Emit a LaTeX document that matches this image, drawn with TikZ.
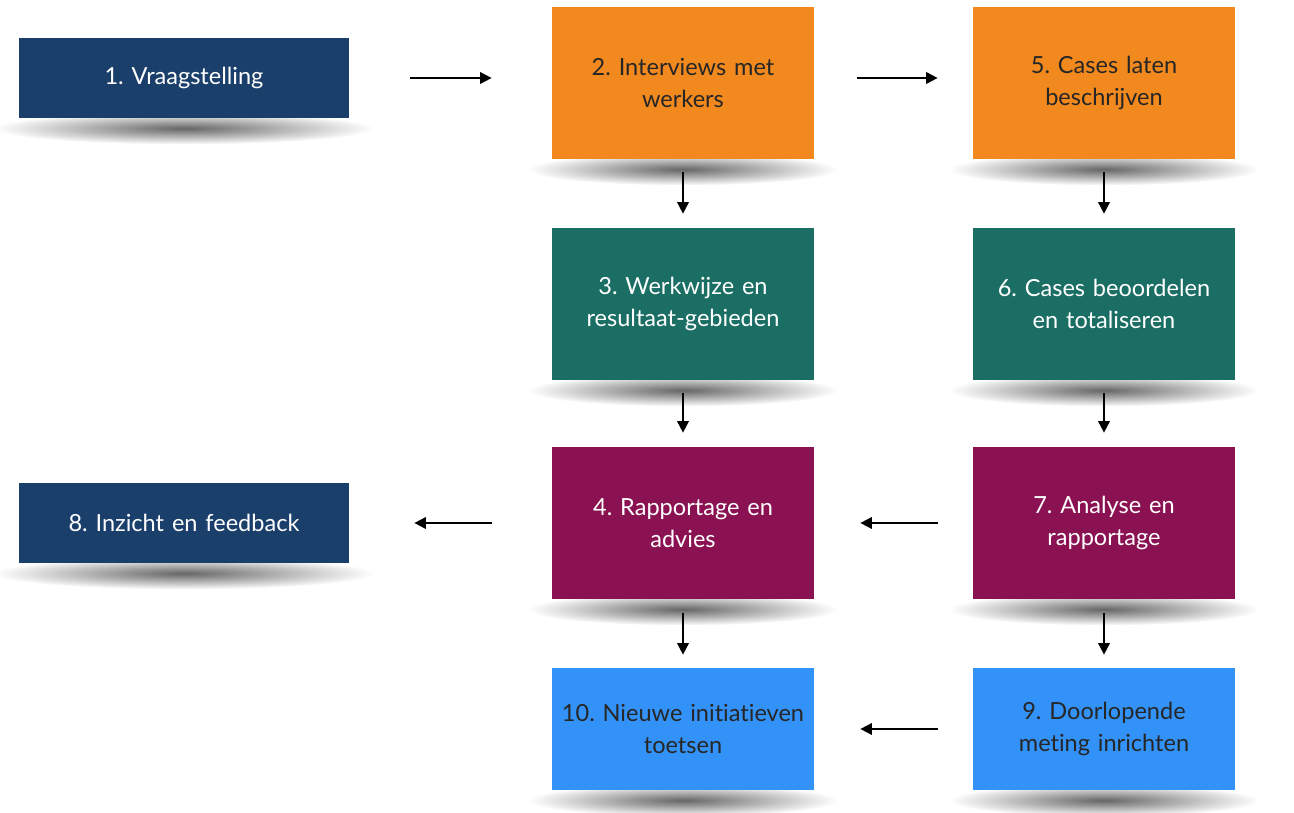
\documentclass[tikz,border=0pt]{standalone}
\usepackage{fontspec}
\setsansfont{Lato}[Ligatures=NoCommon]
\usepackage{tikz}
\usetikzlibrary{arrows.meta, positioning, fadings, backgrounds}
\usepackage{xcolor}
\definecolor{stepnavy}{RGB}{27,63,107}
\definecolor{steporange}{RGB}{242,137,30}
\definecolor{stepteal}{RGB}{27,110,100}
\definecolor{stepmaroon}{RGB}{138,18,83}
\definecolor{stepblue}{RGB}{51,146,247}
\tikzfading[name=shadowfade, inner color=transparent!0, outer color=transparent!100]
\tikzstyle{stepbox} = [rectangle, minimum width=5.24cm, minimum height=3.04cm, text width=5.2cm, align=center, inner sep=0pt, font=\sffamily\fontsize{13.4}{18}\selectfont]
\tikzstyle{widebox} = [stepbox, minimum width=6.6cm, minimum height=1.6cm, text width=6.3cm]
\tikzstyle{lowbox} = [stepbox, minimum height=2.44cm]
\tikzstyle{arrow} = [line width=1pt, -{Triangle[length=6.5pt, width=6.5pt]}]
\tikzstyle{shade} = [black!60, path fading=shadowfade]
\frenchspacing

\begin{document}
\begin{tikzpicture}

\useasboundingbox (0,0) rectangle (25.88,-16.26);

% Left column
\node[widebox, fill=stepnavy, text=white] (vraag) at (3.68,-1.56) {1. Vraagstelling};
\node[widebox, fill=stepnavy, text=white] (inzicht) at (3.68,-10.46) {8. Inzicht en feedback};

% Middle column
\node[stepbox, fill=steporange, text=black!85] (interviews) at (13.66,-1.66) {2. Interviews met\\werkers};
\node[stepbox, fill=stepteal, text=white] (werkwijze) at (13.66,-6.08) {3. Werkwijze en\\resultaat-gebieden};
\node[stepbox, fill=stepmaroon, text=white] (rapport) at (13.66,-10.46) {4. Rapportage en\\advies};
\node[lowbox, fill=stepblue, text=black!85] (nieuw) at (13.66,-14.58) {10. Nieuwe initiatieven\\toetsen};

% Right column
\node[stepbox, fill=steporange, text=black!85] (cases) at (22.08,-1.66) {5. Cases laten\\beschrijven};
\node[stepbox, fill=stepteal, text=white] (beoordelen) at (22.08,-6.08) {6. Cases beoordelen\\en totaliseren};
\node[stepbox, fill=stepmaroon, text=white] (analyse) at (22.08,-10.46) {7. Analyse en\\rapportage};
\node[lowbox, fill=stepblue, text=black!85] (meting) at (22.08,-14.58) {9. Doorlopende\\meting inrichten};

% Shadows under the boxes
\begin{scope}[on background layer]
\foreach \n in {vraag, inzicht} {
  \fill[shade] ([yshift=-0.2cm]\n.south) ellipse (3.8cm and 0.32cm);
}
\foreach \n in {interviews, werkwijze, rapport, nieuw, cases, beoordelen, analyse, meting} {
  \fill[shade] ([yshift=-0.2cm]\n.south) ellipse (3.1cm and 0.32cm);
}
\end{scope}

% Arrows
\draw[arrow, shorten <=1.22cm, shorten >=1.2cm] (vraag.east) -- (vraag.east -| interviews.west);
\draw[arrow, shorten <=0.86cm, shorten >=0.7cm] ([yshift=0.1cm]interviews.east) -- ([yshift=0.1cm]cases.west);
\draw[arrow, shorten <=0.26cm, shorten >=0.28cm] (interviews) -- (werkwijze);
\draw[arrow, shorten <=0.26cm, shorten >=0.28cm] (cases) -- (beoordelen);
\draw[arrow, shorten <=0.26cm, shorten >=0.28cm] (werkwijze) -- (rapport);
\draw[arrow, shorten <=0.26cm, shorten >=0.28cm] (beoordelen) -- (analyse);
\draw[arrow, shorten <=0.7cm, shorten >=0.92cm] (analyse.west) -- (rapport.east);
\draw[arrow, shorten <=1.2cm, shorten >=1.3cm] (rapport.west) -- (inzicht.east);
\draw[arrow, shorten <=0.28cm, shorten >=0.26cm] (rapport) -- (nieuw);
\draw[arrow, shorten <=0.28cm, shorten >=0.26cm] (analyse) -- (meting);
\draw[arrow, shorten <=0.7cm, shorten >=0.92cm] (meting.west) -- (nieuw.east);

\end{tikzpicture}
\end{document}
